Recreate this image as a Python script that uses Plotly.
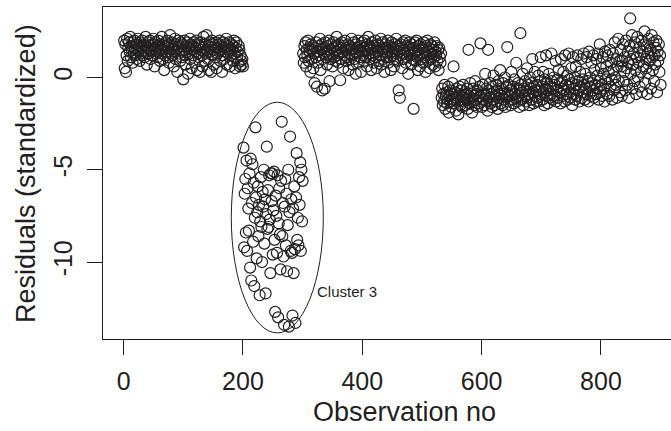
import plotly.graph_objects as go

# Standardized residuals by observation number
seg_a = [  # obs 1-200
    2.0, 0.5, 1.8, 0.3, 1.2, 2.1, 0.9, 1.6, 1.9, 1.4, 2.2, 1.1, 1.7, 1.5, 0.8, 1.9, 1.3, 2.0, 1.6, 1.2,
    1.8, 1.0, 1.5, 2.1, 1.4, 1.7, 0.9, 1.9, 1.3, 1.6, 2.0, 1.2, 1.8, 1.5, 1.1, 1.7, 2.2, 1.4, 0.7, 1.6,
    1.9, 1.3, 1.5, 2.0, 1.0, 1.7, 1.4, 1.8, 1.2, 2.1, 1.6, 0.6, 1.5, 1.9, 1.3, 1.7, 1.1, 2.0, 1.4, 1.8,
    0.9, 1.6, 1.3, 2.2, 1.5, 1.0, 1.8, 0.4, 1.7, 1.2, 1.9, 1.4, 2.0, 1.1, 1.6, 0.8, 1.8, 2.3, 1.3, 1.5,
    1.9, 1.2, 1.7, 0.6, 1.4, 2.1, 1.0, 1.8, 1.5, 0.3, 1.6, 2.0, 1.3, 1.7, 0.9, 1.9, 1.4, 1.1, 1.8, -0.1,
    1.5, 2.0, 1.2, 0.7, 1.7, 1.4, 1.9, 0.2, 1.6, 1.3, 2.1, 1.0, 1.8, 0.5, 1.5, 1.7, 1.2, 1.9, 0.8, 1.4,
    1.6, 2.0, 0.4, 1.3, 1.8, 1.1, 1.7, 0.3, 1.5, 1.9, 1.2, 0.6, 1.6, 2.2, 1.4, 0.9, 1.8, 1.3, 2.3, 1.5,
    1.0, 1.7, 0.4, 1.9, 1.4, 1.6, 0.3, 2.0, 1.2, 1.8, 0.7, 1.5, 1.7, 1.1, 1.9, 0.5, 1.6, 1.3, 1.8, 1.4,
    2.0, 0.9, 1.5, 1.7, 0.3, 1.2, 1.9, 1.6, 1.0, 1.8, 1.4, 2.1, 0.7, 1.5, 1.7, 1.3, 1.9, 0.6, 1.6, 1.2,
    1.8, 1.5, 0.9, 1.7, 2.0, 1.3, 0.5, 1.6, 1.9, 1.1, 1.4, 0.8, 1.7, 1.5, 0.6, 1.2, 0.9, 0.7, 1.0, 0.6,
]
seg_b = [  # obs 201-300 (Cluster 3)
    -3.8, -9.2, -6.3, -5.5, -8.4, -4.5, -9.4, -6.0, -7.1, -8.3, -5.2, -10.3, -4.4, -11.0, -6.8, -4.7, -8.9, -5.7, -11.3, -7.6,
    -2.7, -6.5, -9.8, -7.3, -5.9, -8.6, -6.9, -11.8, -7.8, -5.4,
    -8.1, -10.0, -6.2, -7.0, -5.0, -9.0, -6.6, -11.7, -7.4, -3.75,
    -8.2, -6.1, -8.1, -5.3, -7.7, -10.6, -5.2, -6.7, -5.2, -9.6,
    -7.2, -5.1, -8.8, -12.7, -6.4, -7.5, -9.5, -5.3, -13.0, -7.9,
    -6.0, -8.5, -10.4, -5.6, -2.4, -8.6, -6.8, -9.7, -13.4, -7.0,
    -5.5, -9.1, -6.3, -10.5, -8.0, -5.0, -13.5, -7.3, -3.2, -9.4,
    -6.6, -9.5, -12.9, -7.1, -10.6, -5.9, -9.3, -13.3, -6.5, -4.1,
    -8.8, -7.6, -9.1, -5.4, -6.9, -4.6, -9.4, -5.0, -7.8, -5.6,
]
seg_c = [  # obs 301-532
    1.3, 0.8, 1.7, 1.1, 1.9, 0.6, 1.5, 1.2, 2.0, 0.9, 1.6, 1.4, 0.3, 1.8, 1.0, 1.5, 1.7, 0.5, 1.3, -0.3,
    1.6, 1.1, 1.9, -0.5, 1.4, 0.8, 1.7, 1.2, 2.1, 0.4, 1.5, 1.8, -0.7, 1.0, 1.6, 1.3, -0.6, 1.9, 1.1, 1.4,
    0.7, 1.7, 1.2, 2.0, -0.2, 1.5, 1.0, 1.8, 1.3, 0.6, 1.6, 1.9, 1.1, 1.4, 0.9, 1.7, 2.2, 1.2, 1.5, 0.8,
    1.8, 1.3, -0.15, 1.6, 1.0, 1.9, 1.4, 0.5, 1.7, 1.2, 2.0, 1.5, 0.9, 1.6, 1.1, 1.8, 0.4, 1.3, 1.7, 1.0,
    1.5, 2.1, 1.2, 0.7, 1.6, 1.9, 1.0, 1.4, 0.2, 1.8, 1.3, 1.6, 2.0, 0.8, 1.5, 1.1, 1.7, 0.3, 1.4, 1.9,
    1.2, 1.6, 0.9, 2.0, 1.4, 1.1, 1.8, 0.6, 1.5, 2.2, 1.3, 1.7, 1.0, 1.6, 0.4, 1.9, 1.2, 1.5, 0.8, 1.7,
    1.3, 2.0, 1.1, 0.5, 1.6, 1.8, 1.4, 0.9, 1.7, 1.2, 2.1, 0.7, 1.5, 1.9, 1.0, 1.6, 0.3, 1.4, 1.8, 1.1,
    1.6, 1.3, 2.0, 0.8, 1.5, 1.7, 1.1, 0.4, 1.9, 1.4, 1.2, 1.6, 0.6, 1.8, 1.0, 1.5, 2.1, 1.3, 0.9, 1.7,
    -0.7, 1.4, -1.1, 1.8, 1.2, 1.6, 0.5, 1.9, 1.0, 1.5, 1.3, 2.0, 0.8, 1.7, 1.1, 1.4, 0.2, 1.6, 1.9, 1.2,
    1.5, 0.7, 1.8, 1.0, 1.6, -1.7, 1.3, 1.9, 0.9, 1.4, 2.0, 1.1, 0.4, 1.7, 1.2, 1.5, 0.6, 1.8, 1.0, 1.6,
    1.3, 0.8, 1.9, 1.1, 1.5, 0.3, 1.7, 1.2, 2.0, 0.9, 1.4, 1.6, 0.5, 1.8, 1.0, 1.3, 1.7, 0.7, 1.5, 1.1,
    1.9, 0.6, 1.4, 1.2, 1.7, 0.9, 1.5, 0.4, 1.6, 1.1, 0.8, 1.3,
]
seg_d = [  # obs 533-900
    -1.1, -0.6, -1.5, -0.9, -1.3, -0.4, -1.7, -1.0, -0.8, -1.4, -1.2, -0.5, -1.9, -1.0, -0.7, -1.3, -1.6, -0.9, -0.3, -1.2,
    0.6, -1.4, -0.8, -1.1, -1.8, -0.6, -1.0, -1.3, -2.0, -0.9, -0.5, -1.5, -1.2, -0.7, -1.6, -1.0, -0.4, -1.3, -1.1, -0.8,
    -1.5, -0.9, -1.2, -0.6, -1.7, 1.5, -1.0, -1.4, -0.3, -1.1, -0.8, -1.9, -1.3, -0.6, -1.0, -1.5, -0.2, -1.2, -0.9, -1.6,
    -0.7, -1.1, -1.4, -0.5, -1.0, 1.85, -1.3, -0.8, -1.6, -0.4, -1.2, -0.9, -1.5, 0.2, -1.0, -0.6, -1.3, -1.8, 1.5, -0.7,
    -1.1, -0.3, -1.4, -0.9, -1.6, -0.5, -1.2, 0.1, -0.8, -1.5, -1.0, -0.4, -1.3, -0.7, -1.7, -0.2, -1.1, -0.9, 0.4, -1.4,
    -0.6, -1.0, -1.5, -0.3, -1.2, -0.8, 0.0, -1.6, -0.5, -1.1, 1.65, -0.9, -1.3, -0.4, -1.0, -0.7, -1.5, 0.3, -0.8, -1.2,
    -0.5, -1.4, -0.1, -0.9, -1.1, 0.8, -0.6, -1.3, -0.3, -1.0, -1.6, -0.7, 2.4, -0.4, -1.2, -0.8, 0.2, -1.5, -0.6, -1.0,
    -0.2, -1.3, -0.7, 0.5, -1.1, -0.4, -0.9, -1.5, 0.0, -0.6, -1.2, -0.3, 1.0, -0.8, -1.4, -0.5, 0.3, -1.0, -0.7, -1.3,
    -0.4, -1.1, 0.1, -0.7, -1.3, -0.2, 1.1, -0.9, -0.5, -1.2, 0.3, -0.8, -1.5, -0.1, -0.6, 1.2, -1.0, -0.3, -1.4, -0.7,
    0.2, -1.1, -0.5, -0.9, 1.3, -0.2, -1.2, -0.6, 0.0, -1.0, -0.4, 0.9, -1.3, -0.7, -0.1, -1.1, 0.4, -0.8, -0.3, -1.4,
    1.0, -0.6, -0.2, -1.0, 0.3, -0.7, -1.3, 1.2, -0.4, -0.9, 0.1, -1.2, -0.5, 1.3, -0.1, -0.8, -1.1, 0.5, -0.3, -1.5,
    1.1, -0.6, -0.9, 0.0, -1.2, 0.6, -0.4, -1.0, 1.2, -0.2, -0.7, -1.3, 0.3, -0.5, 1.0, -1.1, -0.1, -0.8, 1.3, -0.4,
    -1.2, 0.2, -0.6, 1.1, -0.9, -0.2, -1.3, 1.4, -0.5, 0.0, -1.0, 0.8, -0.3, -0.7, 1.2, -1.1, 0.4, -0.4, -0.9, 1.0,
    -0.6, 0.1, 1.3, -1.2, -0.2, 1.8, -0.8, 0.5, -0.4, -1.0, 1.1, 0.2, -0.6, -1.3, 1.4, -0.1, 0.6, -0.9, 1.2, -0.3,
    0.3, -1.0, 1.5, -0.5, 0.8, -0.1, -1.2, 1.3, 0.4, -0.7, 1.9, 0.0, -0.4, 1.0, -1.1, 0.6, 2.1, -0.2, 0.9, -0.8,
    1.5, 0.6, -1.0, 0.9, 1.8, -0.2, 0.3, 1.1, -0.7, 2.0, 0.5, -0.4, 1.4, 0.8, -1.1, 1.7, 3.2, 0.2, 1.0, 2.3,
    -0.6, 0.7, 1.3, -0.2, 1.9, 0.4, -0.9, 1.1, 2.2, 0.0, 0.8, 1.6, -0.5, 1.2, 0.3, 2.0, -0.8, 1.4, 0.6, 1.8,
    2.5, -0.3, 1.0, 0.5, 1.7, -0.9, 1.3, 2.1, 0.2, 0.9, 1.5, -0.6, 2.3, 1.1, 0.4, 1.9, -0.2, 1.2, 0.7, 1.6,
    2.0, -0.8, 1.4, 0.9, 1.8, 0.3, 1.2, -0.4,
]

residuals = seg_a + seg_b + seg_c + seg_d
obs_no = list(range(1, len(residuals) + 1))

x_ticks = [0, 200, 400, 600, 800]
y_ticks = [-10, -5, 0]
y_tick_text = ["-10", "-5", "0"]

cluster_label = "Cluster 3"
ellipse_x = [180.5, 334.7]
ellipse_y = [-13.84, -1.34]

INK = "#231f20"
FONT = "Liberation Sans, Arial, Helvetica, sans-serif"

fig = go.Figure()
fig.add_trace(go.Scatter(
    x=obs_no, y=residuals, mode="markers",
    marker=dict(symbol="circle-open", size=11, color=INK, line=dict(width=1.2, color=INK)),
    showlegend=False, hoverinfo="skip",
))

fig.add_shape(type="circle", xref="x", yref="y",
              x0=ellipse_x[0], x1=ellipse_x[1], y0=ellipse_y[0], y1=ellipse_y[1],
              line=dict(color=INK, width=1))

fig.add_annotation(x=321, y=-11.62, xref="x", yref="y", text=cluster_label,
                   showarrow=False, xanchor="left", yanchor="middle",
                   font=dict(family=FONT, size=15, color=INK))

W, H = 671, 431
ml, mr, mt, mb = 103, 0, 7, 92
pw, ph = W - ml - mr, H - mt - mb

fig.add_annotation(x=(404 - ml) / pw, y=(H - mb - 412) / ph, xref="paper", yref="paper",
                   text="Observation no", showarrow=False, xanchor="center", yanchor="middle",
                   font=dict(family=FONT, size=27, color=INK))
fig.add_annotation(x=(26 - ml) / pw, y=0.5, xref="paper", yref="paper",
                   text="Residuals (standardized)", showarrow=False, textangle=-90,
                   xanchor="center", yanchor="middle",
                   font=dict(family=FONT, size=27, color=INK))

fig.update_layout(
    width=W, height=H,
    margin=dict(l=ml, r=mr, t=mt, b=mb, pad=0),
    paper_bgcolor="white", plot_bgcolor="white",
    font=dict(family=FONT, size=25, color=INK),
    xaxis=dict(range=[-34.5, -34.5 + pw / 0.5967], tickvals=x_ticks, ticks="outside", ticklen=15,
               tickwidth=1.2, tickcolor=INK, showline=True, linecolor=INK, linewidth=1.3,
               mirror=True, showgrid=False, zeroline=False, ticklabelstandoff=5),
    yaxis=dict(range=[-14.17, 3.82], tickvals=y_ticks, ticktext=y_tick_text, tickangle=-90,
               ticks="outside", ticklen=15, tickwidth=1.2, tickcolor=INK, showline=True,
               linecolor=INK, linewidth=1.3, showgrid=False, zeroline=False, ticklabelstandoff=5),
)

fig.write_html("out.html")
